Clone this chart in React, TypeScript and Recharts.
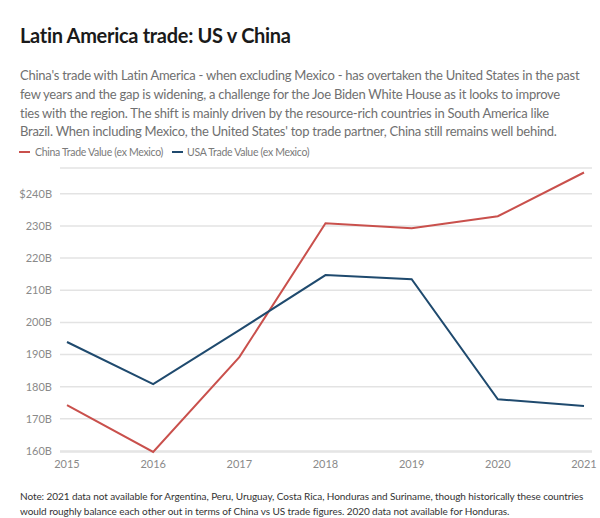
import React from 'react';
import { LineChart, Line, XAxis, YAxis, CartesianGrid } from 'recharts';

const years = ['2015', '2016', '2017', '2018', '2019', '2020', '2021'];
const chinaValues = [174.3, 159.7, 189.2, 230.8, 229.3, 233.0, 246.6];
const usaValues = [193.9, 180.8, 197.6, 214.7, 213.4, 176.1, 174.0];
const yTicks = [160, 170, 180, 190, 200, 210, 220, 230, 240];

const subtitleLines = [
  "China's trade with Latin America - when excluding Mexico - has overtaken the United States in the past",
  'few years and the gap is widening, a challenge for the Joe Biden White House as it looks to improve',
  'ties with the region. The shift is mainly driven by the resource-rich countries in South America like',
  "Brazil. When including Mexico, the United States' top trade partner, China still remains well behind.",
];
const noteLines = [
  'Note: 2021 data not available for Argentina, Peru, Uruguay, Costa Rica, Honduras and Suriname, though historically these countries',
  'would roughly balance each other out in terms of China vs US trade figures. 2020 data not available for Honduras.',
];

const data = years.map((year, i) => ({ year, china: chinaValues[i], usa: usaValues[i] }));

const RED = '#c9504c';
const BLUE = '#1f4a6e';
const FONT = 'Lato, "Open Sans", sans-serif';

const fmtY = (v: number) => (v === 240 ? `$${v}B` : `${v}B`);

export default function App() {
  return (
    <div style={{ position: 'absolute', left: 0, top: 0, width: 600, height: 518, background: '#fff', fontFamily: FONT, overflow: 'hidden' }}>
      <LineChart
        width={600}
        height={518}
        data={data}
        margin={{ top: 168, right: 8, bottom: 36, left: 0 }}
        style={{ position: 'absolute', left: 0, top: 0 }}
      >
        <CartesianGrid vertical={false} stroke="#e3e3e3" strokeWidth={1.5} />
        <XAxis
          dataKey="year"
          axisLine={false}
          tickLine={false}
          padding={{ left: 7, right: 8 }}
          tick={{ fill: '#8a8a8a', fontSize: 11, fontFamily: FONT }}
          interval={0}
        />
        <YAxis
          width={60}
          domain={[160, 248]}
          ticks={yTicks}
          tickFormatter={fmtY}
          axisLine={false}
          tickLine={false}
          tick={{ fill: '#8a8a8a', fontSize: 11, fontFamily: FONT }}
        />
        <Line dataKey="china" stroke={RED} strokeWidth={2} dot={false} isAnimationActive={false} />
        <Line dataKey="usa" stroke={BLUE} strokeWidth={2} dot={false} isAnimationActive={false} />
      </LineChart>

      <div style={{ position: 'absolute', left: 20, top: 23, fontSize: 20, letterSpacing: -0.3, fontWeight: 700, color: '#1a1a1a', whiteSpace: 'nowrap' }}>
        Latin America trade: US v China
      </div>
      <div style={{ position: 'absolute', left: 20, top: 66, fontSize: 13, letterSpacing: -0.25, lineHeight: '18.8px', color: '#707070', whiteSpace: 'nowrap' }}>
        {subtitleLines.map((l) => (
          <div key={l}>{l}</div>
        ))}
      </div>
      <div style={{ position: 'absolute', left: 19, top: 146, fontSize: 10.5, letterSpacing: -0.3, color: '#7a7a7a', whiteSpace: 'nowrap', display: 'flex', alignItems: 'center' }}>
        <span style={{ display: 'inline-block', width: 11, height: 2, background: RED, marginRight: 5 }} />
        <span>China Trade Value (ex Mexico)</span>
        <span style={{ display: 'inline-block', width: 11, height: 2, background: BLUE, marginLeft: 9, marginRight: 4 }} />
        <span>USA Trade Value (ex Mexico)</span>
      </div>
      <div style={{ position: 'absolute', left: 20, top: 489, fontSize: 10, letterSpacing: -0.07, lineHeight: '14.5px', color: '#333', whiteSpace: 'nowrap' }}>
        {noteLines.map((l) => (
          <div key={l}>{l}</div>
        ))}
      </div>
    </div>
  );
}
